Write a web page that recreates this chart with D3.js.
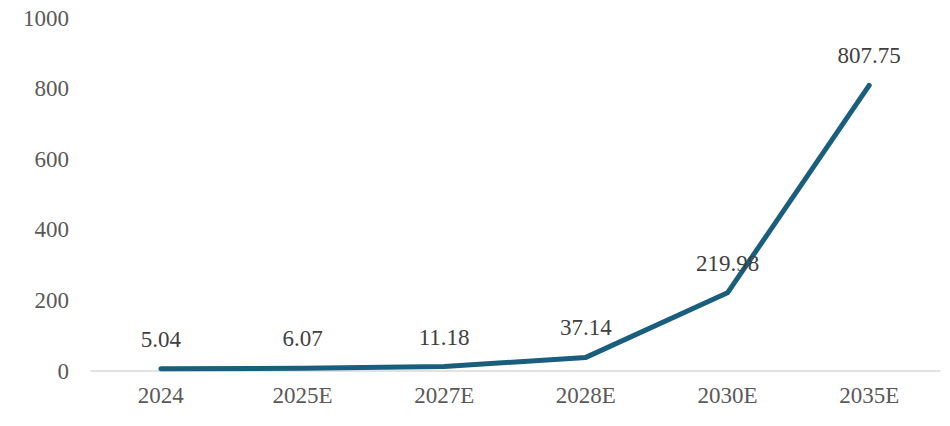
<!DOCTYPE html>
<html>
<head>
<meta charset="UTF-8">
<script src="https://cdn.jsdelivr.net/npm/d3@7"></script>
<style>
  body { margin: 0; background: #fff; }
</style>
</head>
<body>
<svg id="chart" width="950" height="426"></svg>
<script>
const categories = ["2024", "2025E", "2027E", "2028E", "2030E", "2035E"];
const values = [5.04, 6.07, 11.18, 37.14, 219.98, 807.75];
const valueLabels = ["5.04", "6.07", "11.18", "37.14", "219.98", "807.75"];
const yTicks = [0, 200, 400, 600, 800, 1000];

const serif = "'Liberation Serif', 'Times New Roman', serif";
const data = categories.map((c, i) => ({ cat: c, value: values[i], label: valueLabels[i] }));

const svg = d3.select("#chart");

const x = d3.scaleBand()
    .domain(categories)
    .range([90, 940]);

const y = d3.scaleLinear()
    .domain([0, 1000])
    .range([370.5, 17.5]);

// y labels (no axis line)
svg.append("g")
    .selectAll("text")
    .data(yTicks)
    .join("text")
    .attr("x", 69)
    .attr("y", d => y(d))
    .attr("dy", "0.35em")
    .attr("text-anchor", "end")
    .attr("font-family", serif)
    .attr("font-size", 23)
    .attr("fill", "#595959")
    .text(d => d);

// x axis
const xAxis = svg.append("g")
    .attr("transform", `translate(0,${y(0)})`)
    .call(d3.axisBottom(x).tickSize(0).tickPadding(16));
xAxis.select(".domain").attr("stroke", "#d9d9d9").attr("stroke-width", 1.5);
xAxis.selectAll("text")
    .attr("font-size", 23)
    .attr("font-family", serif)
    .attr("fill", "#595959");

const line = d3.line()
    .x(d => x(d.cat) + x.bandwidth() / 2)
    .y(d => y(d.value));

svg.append("path")
    .datum(data)
    .attr("d", line)
    .attr("fill", "none")
    .attr("stroke", "#195f7d")
    .attr("stroke-width", 5)
    .attr("stroke-linecap", "round")
    .attr("stroke-linejoin", "round");

svg.append("g")
    .selectAll("text")
    .data(data)
    .join("text")
    .attr("x", d => x(d.cat) + x.bandwidth() / 2)
    .attr("y", d => y(d.value) - 30)
    .attr("dy", "0.35em")
    .attr("text-anchor", "middle")
    .attr("font-family", serif)
    .attr("font-size", 23)
    .attr("fill", "#404040")
    .text(d => d.label);
</script>
</body>
</html>
